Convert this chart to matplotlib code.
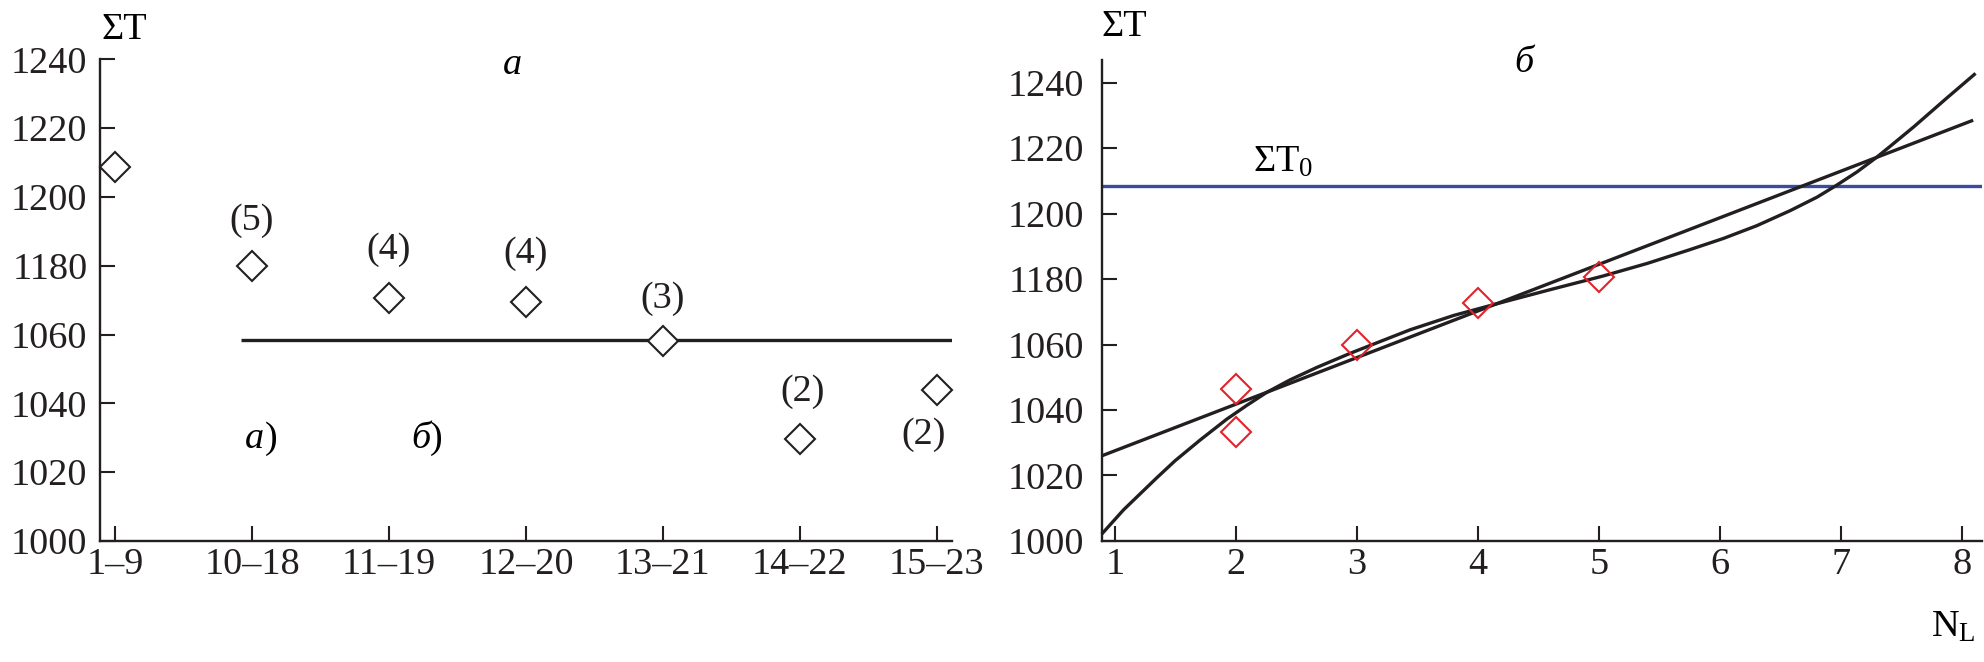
"""Two-panel ΣT figure: window scan (а) and ΣT versus N_L with fits (б)."""
import matplotlib
matplotlib.use("Agg")
import matplotlib.pyplot as plt

plt.rcParams["font.family"] = ["Liberation Serif", "DejaVu Serif"]
plt.rcParams["mathtext.fontset"] = "custom"
plt.rcParams["mathtext.rm"] = "Liberation Serif"
plt.rcParams["mathtext.it"] = "Liberation Serif:italic"

BLACK = "#231f20"
RED = "#e3232b"
BLUE = "#3b4c9f"
FS = 27.5

# --- panel а: sliding windows ---
windows = ["1–9", "10–18", "11–19", "12–20", "13–21", "14–22", "15–23"]
window_sum_t = [1108.8, 1080.0, 1070.6, 1069.5, 1058.1, 1029.7, 1043.9]
window_counts = ["(5)", "(4)", "(4)", "(3)", "(2)", "(2)"]
mean_level = 1058.3

# y ticks are printed in the source with this (non-uniform) labelling
y_ticks = [1000, 1020, 1040, 1060, 1080, 1100, 1120, 1140]
y_ticklabels = ["1000", "1020", "1040", "1060", "1180", "1200", "1220", "1240"]

# --- panel б: ΣT vs N_L ---
nl_points = [2, 2, 3, 4, 5]
nl_sum_t = [1046.4, 1033.3, 1059.8, 1072.6, 1080.6]
sum_t0 = 1108.4
lin_x = [0.89, 8.09]
lin_y = [1026.0, 1128.5]
curve_x = [0.89, 1.07, 1.345, 1.496, 1.702, 1.923, 2.088, 2.254, 2.446,
           2.667, 2.942, 3.217, 3.438, 3.8, 4.15, 4.6, 5.03, 5.4, 5.752,
           6.027, 6.303, 6.579, 6.80, 6.96, 7.13, 7.29, 7.40, 7.6, 7.87, 8.11]
curve_y = [1002.1, 1009.5, 1019.3, 1024.5, 1030.8, 1037.2, 1041.4, 1045.4,
           1049.2, 1053.0, 1057.3, 1061.3, 1064.5, 1068.9, 1072.4, 1076.8,
           1080.9, 1084.8, 1089.0, 1092.4, 1096.3, 1100.9, 1105.0, 1108.6,
           1112.7, 1117.1, 1120.4, 1126.5, 1135.2, 1142.8]
nl_ticks = [1, 2, 3, 4, 5, 6, 7, 8]


def style_axes(ax):
    for side in ("top", "right"):
        ax.spines[side].set_visible(False)
    for side in ("left", "bottom"):
        ax.spines[side].set_linewidth(1.7)
        ax.spines[side].set_color(BLACK)
    ax.tick_params(direction="in", length=11, width=1.5, colors=BLACK,
                   labelsize=FS)
    ax.tick_params(axis="x", pad=5)
    ax.set_yticks(y_ticks)
    ax.set_yticklabels(y_ticklabels)


fig = plt.figure(figsize=(19.84, 6.62), dpi=100)

# left panel
ax1 = fig.add_axes([0.0504, 0.1828, 0.4294, 0.7276])
style_axes(ax1)
ax1.tick_params(axis="y", pad=9)
xs = list(range(len(windows)))
ax1.hlines(mean_level, 0.92, 6.11, color=BLACK, lw=2.4)
ax1.plot(xs, window_sum_t, ls="none", marker="D", ms=15, mfc="white",
         mec=BLACK, mew=1.5, clip_on=False, zorder=3)
ax1.set_xticks(xs)
ax1.set_xticklabels(windows)
ax1.set_xlim(-0.11, 6.11)
ax1.set_ylim(1000, 1140)

count_pos = [(1.0, 1093.2), (2.0, 1084.6), (3.0, 1083.6), (4.0, 1070.4),
             (5.02, 1043.3), (5.90, 1031.0)]
for lab, (x, y) in zip(window_counts, count_pos):
    ax1.text(x, y, lab, fontsize=FS, ha="center", va="center", color=BLACK)
ax1.text(1.09, 1029.7, "а", fontsize=FS, style="italic", ha="right", va="center")
ax1.text(1.09, 1029.7, ")", fontsize=FS, ha="left", va="center")
ax1.text(2.30, 1029.7, "б", fontsize=FS, style="italic", ha="right", va="center")
ax1.text(2.30, 1029.7, ")", fontsize=FS, ha="left", va="center")
ax1.text(2.90, 1138.3, "а", fontsize=FS, style="italic", ha="center", va="center")
ax1.text(0.07, 1148.5, "ΣT", fontsize=FS, ha="center", va="center", clip_on=False)

# right panel
ax2 = fig.add_axes([0.5553, 0.1828, 0.4435, 0.7266])
style_axes(ax2)
ax2.tick_params(axis="y", pad=13)
ax2.axhline(sum_t0, color=BLUE, lw=2.4)
ax2.plot(lin_x, lin_y, color=BLACK, lw=2.4, solid_capstyle="butt")
ax2.plot(curve_x, curve_y, color=BLACK, lw=2.4, solid_capstyle="butt",
         solid_joinstyle="round", clip_on=False)
ax2.plot(nl_points, nl_sum_t, ls="none", marker="D", ms=15, mfc="none",
         mec=RED, mew=1.5, zorder=3)
ax2.set_xticks(nl_ticks)
ax2.set_xlim(0.89, 8.16)
ax2.set_ylim(1000, 1146.9)
ax2.text(2.14, 1115.5, "ΣT$_0$", fontsize=FS, ha="left", va="center")
ax2.text(4.38, 1146.0, "б", fontsize=FS, style="italic", ha="center", va="center",
         clip_on=False)
ax2.text(1.08, 1157.1, "ΣT", fontsize=FS, ha="center", va="center", clip_on=False)
ax2.text(8.11, 970.8, "N$_\\mathrm{L}$", fontsize=FS, ha="right", va="baseline")

fig.savefig("out.png", dpi=100)
